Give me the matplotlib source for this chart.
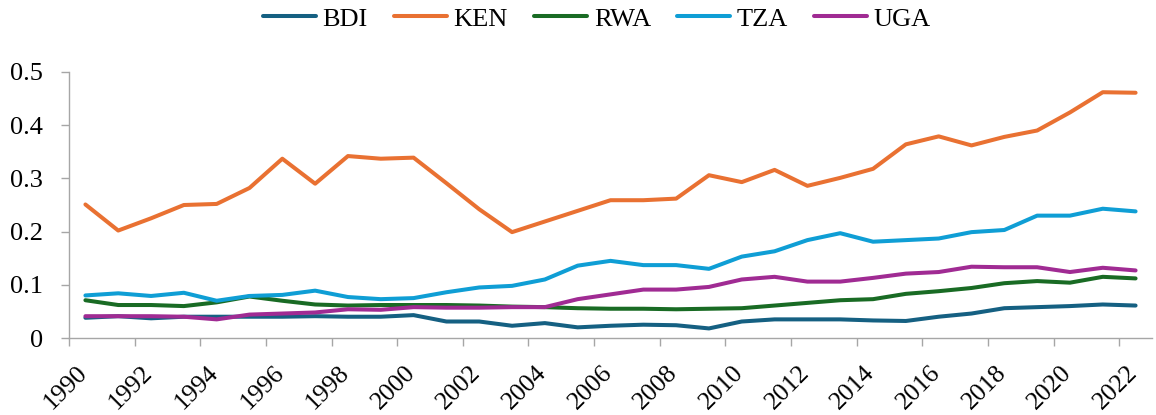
import matplotlib
matplotlib.use("Agg")
import matplotlib.pyplot as plt
import matplotlib.transforms as mtransforms
import numpy as np

years = list(range(1990, 2023))
BDI = [0.038, 0.041, 0.037, 0.040, 0.040, 0.040, 0.040, 0.041, 0.040, 0.040,
       0.043, 0.031, 0.031, 0.023, 0.028, 0.020, 0.023, 0.025, 0.024, 0.018,
       0.031, 0.035, 0.035, 0.035, 0.033, 0.032, 0.040, 0.046, 0.056, 0.058,
       0.060, 0.063, 0.061]
KEN = [0.251, 0.202, 0.225, 0.250, 0.252, 0.282, 0.337, 0.290, 0.342, 0.337,
       0.339, 0.291, 0.242, 0.199, 0.219, 0.239, 0.259, 0.259, 0.262, 0.306,
       0.293, 0.316, 0.286, 0.301, 0.318, 0.364, 0.379, 0.362, 0.378, 0.390,
       0.424, 0.462, 0.461]
RWA = [0.071, 0.062, 0.062, 0.060, 0.067, 0.078, 0.070, 0.063, 0.061, 0.062,
       0.062, 0.062, 0.061, 0.059, 0.058, 0.056, 0.055, 0.055, 0.054, 0.055,
       0.056, 0.061, 0.066, 0.071, 0.073, 0.083, 0.088, 0.094, 0.103, 0.107,
       0.104, 0.115, 0.112]
TZA = [0.080, 0.084, 0.079, 0.085, 0.070, 0.079, 0.081, 0.089, 0.077, 0.073,
       0.075, 0.086, 0.095, 0.098, 0.110, 0.136, 0.145, 0.137, 0.137, 0.130,
       0.153, 0.163, 0.184, 0.197, 0.181, 0.184, 0.187, 0.199, 0.203, 0.230,
       0.230, 0.243, 0.238]
UGA = [0.041, 0.041, 0.041, 0.040, 0.035, 0.044, 0.046, 0.048, 0.054, 0.053,
       0.058, 0.057, 0.057, 0.058, 0.058, 0.073, 0.082, 0.091, 0.091, 0.096,
       0.110, 0.115, 0.106, 0.106, 0.113, 0.121, 0.124, 0.134, 0.133, 0.133,
       0.124, 0.132, 0.127]

series = [("BDI", BDI, "#156082"), ("KEN", KEN, "#E97132"),
          ("RWA", RWA, "#196B24"), ("TZA", TZA, "#0F9ED5"),
          ("UGA", UGA, "#A02B93")]

plt.rcParams['font.family'] = ['Liberation Serif', 'DejaVu Serif']
FS = 19

fig = plt.figure(figsize=(11.56, 4.15), dpi=100)
ax = fig.add_axes([69/1156, 1-338/415, (1152-69)/1156, (338-72)/415])

x = np.arange(len(years))
for name, vals, col in series:
    ax.plot(x, vals, color=col, lw=2.9, label=name, solid_capstyle='round',
            solid_joinstyle='round')

ax.set_xlim(-0.5, len(years) - 0.5)
ax.set_ylim(0, 0.5)
ax.set_yticks([0, 0.1, 0.2, 0.3, 0.4, 0.5])
ax.set_yticklabels(["0", "0.1", "0.2", "0.3", "0.4", "0.5"])

# tick marks between categories (no labels); labels at category centres
ax.set_xticks(np.arange(-0.5, len(years) - 1, 2))
ax.set_xticklabels([])
ax.tick_params(axis='x', which='major', length=5.8, width=1, color='#A6A6A6')
ax.tick_params(axis='y', length=5.8, width=1, color='#A6A6A6', labelsize=FS, pad=13)

lab_trans = (mtransforms.blended_transform_factory(ax.transData, ax.transAxes)
             + mtransforms.ScaledTranslation(-9.5/100, -24/100, fig.dpi_scale_trans))
for xi, yr in zip(x[::2], years[::2]):
    ax.text(xi, 0, str(yr), transform=lab_trans, rotation=45,
            rotation_mode='anchor', ha='right', va='top', fontsize=18.5,
            clip_on=False)

for s in ['top', 'right']:
    ax.spines[s].set_visible(False)
for s in ['left', 'bottom']:
    ax.spines[s].set_color('#A6A6A6')
    ax.spines[s].set_linewidth(1)

fig.legend(loc='center', bbox_to_anchor=(597/1156, 1-19/415), ncol=5,
           frameon=False, fontsize=FS, handlelength=2.0, handletextpad=0.25,
           columnspacing=1.0)

fig.savefig("out.png", dpi=100)
